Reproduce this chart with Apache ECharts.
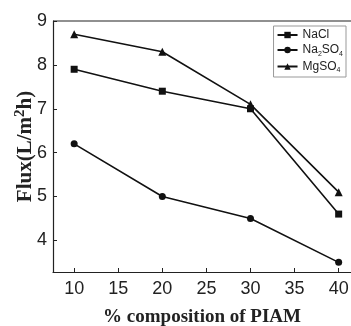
<!DOCTYPE html>
<html>
<head>
<meta charset="utf-8">
<script src="https://cdn.jsdelivr.net/npm/echarts@6/dist/echarts.min.js"></script>
<style>
  html, body {margin: 0; padding: 0; background: #fff;}
  #chart {width: 351px; height: 326px;}
</style>
</head>
<body>
<div id="chart"></div>
<script>
// % composition of PIAM
const composition = [10, 20, 30, 40];
const xTicks = [10, 15, 20, 25, 30, 35, 40];
const yTicks = [4, 5, 6, 7, 8, 9];
const nacl = [7.9, 7.4, 7.0, 4.6];
const na2so4 = [6.2, 5.0, 4.5, 3.5];
const mgso4 = [8.7, 8.3, 7.1, 5.1];

const legendLabels = {
  'NaCl': 'NaCl',
  'Na2SO4': 'Na{sub|2}SO{sub|4}',
  'MgSO4': 'MgSO{sub|4}'
};

const pair = (vals) => composition.map((x, i) => [x, vals[i]]);

const myChart = echarts.init(document.getElementById('chart'));

const line = (name, vals, symbol) => ({
  name: name,
  type: 'line',
  data: pair(vals),
  symbol: symbol,
  symbolSize: symbol === 'triangle' ? 8 : 7,
  itemStyle: {color: '#111'},
  lineStyle: {color: '#111', width: 1.6},
  z: 3
});

myChart.setOption({
  animation: false,
  grid: {left: 53, top: 21, right: 0, bottom: 54, outerBoundsMode: 'none'},
  legend: {
    orient: 'vertical',
    right: 5,
    top: 26,
    itemWidth: 20,
    itemHeight: 8,
    itemGap: 3,
    padding: [3, 3, 3, 3],
    borderColor: '#999',
    borderWidth: 1,
    data: ['NaCl', 'Na2SO4', 'MgSO4'],
    formatter: (name) => legendLabels[name],
    textStyle: {
      fontFamily: 'Liberation Sans',
      fontSize: 12,
      color: '#222',
      rich: {
        sub: {fontSize: 7, verticalAlign: 'bottom', padding: [8, 0, 0, 0], fontFamily: 'Liberation Sans', color: '#222'}
      }
    }
  },
  xAxis: {
    type: 'value',
    min: 7.6,
    max: 41.4,
    name: '% composition of PIAM',
    nameLocation: 'middle',
    nameGap: 36,
    nameTextStyle: {fontFamily: 'Liberation Serif', fontWeight: 'bold', fontSize: 19, color: '#222'},
    axisLine: {lineStyle: {color: '#222', width: 1.2}},
    axisTick: {inside: true, length: 4, customValues: xTicks, lineStyle: {color: '#222'}},
    axisLabel: {customValues: xTicks, margin: 8, fontFamily: 'Liberation Sans', fontSize: 18, color: '#222'},
    splitLine: {show: false}
  },
  yAxis: {
    type: 'value',
    min: 3.28,
    max: 9,
    name: 'Flux(L/m{sup|2}h)',
    nameLocation: 'middle',
    nameGap: 15,
    nameMoveOverlap: false,
    nameTextStyle: {
      fontFamily: 'Liberation Serif', fontWeight: 'bold', fontSize: 21, color: '#222',
      rich: {sup: {fontFamily: 'Liberation Serif', fontWeight: 'bold', fontSize: 15, verticalAlign: 'top', padding: [0, 0, 10, 0], color: '#222'}}
    },
    axisLine: {show: true, lineStyle: {color: '#222', width: 1.2}},
    axisTick: {show: true, inside: true, length: 4, customValues: yTicks, lineStyle: {color: '#222'}},
    axisLabel: {customValues: yTicks, margin: 6, fontFamily: 'Liberation Sans', fontSize: 18, color: '#222'},
    splitLine: {show: false}
  },
  graphic: [{
    type: 'line',
    shape: {x1: 53, y1: 21, x2: 351, y2: 21},
    style: {stroke: '#222', lineWidth: 1.2}
  }],
  series: [
    line('NaCl', nacl, 'rect'),
    line('Na2SO4', na2so4, 'circle'),
    line('MgSO4', mgso4, 'triangle')
  ]
});
</script>
</body>
</html>
